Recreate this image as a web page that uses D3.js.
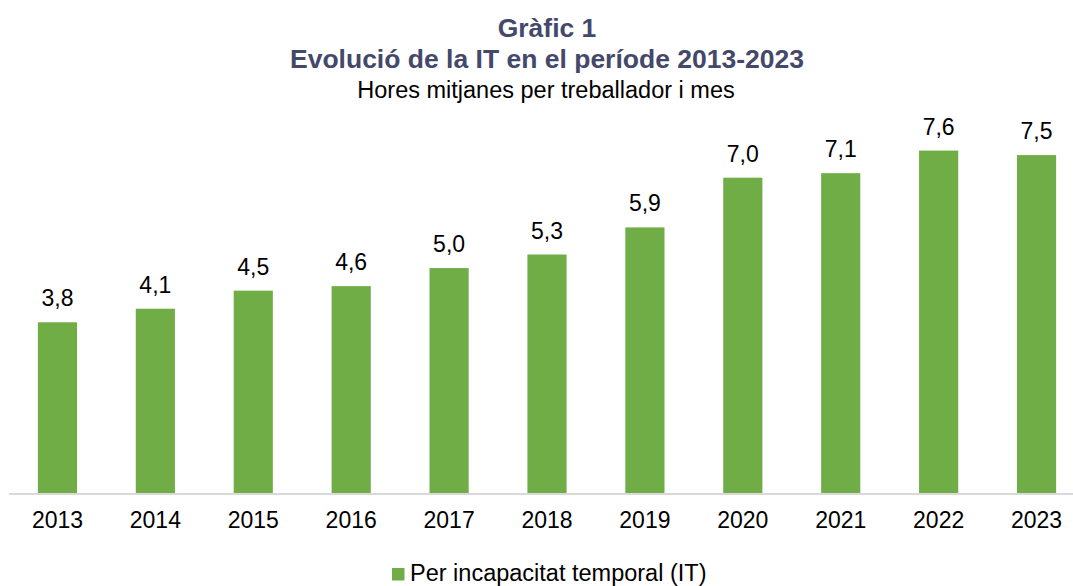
<!DOCTYPE html>
<html>
<head>
<meta charset="utf-8">
<script src="https://cdn.jsdelivr.net/npm/d3@7"></script>
<style>
  body { margin: 0; background: #fff; }
  svg { display: block; font-family: "Liberation Sans", Arial, sans-serif; }
</style>
</head>
<body>
<script>
(function() {
	"use strict";
	const YEARS = ["2013", "2014", "2015", "2016", "2017", "2018", "2019", "2020", "2021", "2022", "2023"],
	   HOURS = [3.8, 4.1, 4.5, 4.6, 5.0, 5.3, 5.9, 7.0, 7.1, 7.6, 7.5],
	   TITLES = ["Gràfic 1", "Evolució de la IT en el període 2013-2023"],
	   SUBTITLE = "Hores mitjanes per treballador i mes",
	   SERIES_NAME = "Per incapacitat temporal (IT)";

	const svg_w = 1073, svg_h = 586, base_y = 494, top_y = 132.5;
	const green = "#70ad47", title_col = "#44486a";

	let svg = d3.select("body").append("svg").attr("width", svg_w).attr("height", svg_h);

	let x = d3.scaleBand().domain(YEARS).range([8.5, 1085.5]).paddingInner(0.6).paddingOuter(0.3);
	let y = d3.scaleLinear().domain([0, 8]).range([base_y, top_y]);

	// titles
	svg.selectAll("text.title").data(TITLES).enter().append("text")
		.attr("class", "title")
		.attr("x", 547).attr("y", (d, i) => 37 + i * 31)
		.attr("text-anchor", "middle")
		.attr("font-weight", "bold").attr("font-size", 26.5).attr("fill", title_col)
		.text(d => d);
	svg.append("text").attr("x", 546).attr("y", 98).attr("text-anchor", "middle")
		.attr("font-size", 23.5).attr("fill", "#000").text(SUBTITLE);

	// bars
	svg.selectAll("rect.bar").data(HOURS).enter().append("rect")
		.attr("class", "bar")
		.attr("x", (d, i) => x(YEARS[i]))
		.attr("y", d => y(d))
		.attr("width", x.bandwidth())
		.attr("height", d => base_y - y(d))
		.attr("fill", green);

	// value labels
	const fmt = d3.format(".1f");
	svg.selectAll("text.val").data(HOURS).enter().append("text")
		.attr("class", "val")
		.attr("x", (d, i) => x(YEARS[i]) + x.bandwidth() / 2)
		.attr("y", d => y(d) - 16)
		.attr("text-anchor", "middle").attr("font-size", 23)
		.text(d => fmt(d).replace(".", ","));

	// x axis
	let axis = svg.append("g").attr("transform", "translate(0," + base_y + ")")
		.call(d3.axisBottom(x).tickSize(0).tickPadding(18));
	axis.select(".domain").attr("stroke", "#d9d9d9").attr("stroke-width", 2)
		.attr("d", "M9,0H1073");
	axis.selectAll("text").attr("font-size", 23).attr("fill", "#000")
		.attr("font-family", "Liberation Sans, Arial, sans-serif");

	// legend
	let leg = svg.append("g").attr("transform", "translate(392,568)");
	leg.append("rect").attr("width", 12.5).attr("height", 12.5).attr("fill", green);
	leg.append("text").attr("x", 18).attr("y", 13).attr("font-size", 23.5).text(SERIES_NAME);
}());
</script>
</body>
</html>
